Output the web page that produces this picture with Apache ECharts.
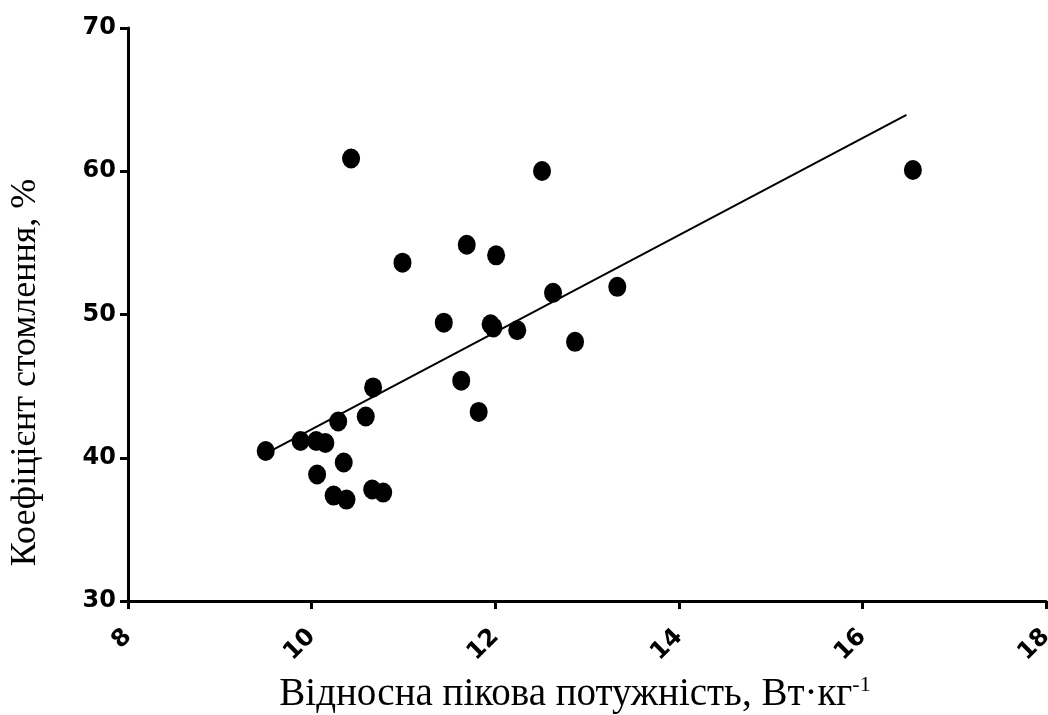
<!DOCTYPE html>
<html><head><meta charset="utf-8">
<script src="https://cdn.jsdelivr.net/npm/echarts@6/dist/echarts.min.js"></script>
<style>html,body{margin:0;padding:0;background:#fff}#c{width:1048px;height:715px}</style>
</head><body><div id="c"></div>
<script>
const xValues = [9.50, 9.88, 10.05, 10.15, 10.06, 10.24, 10.38, 10.35, 10.29, 10.59, 10.67, 10.66, 10.78, 10.43, 10.99, 11.44, 11.63, 11.69, 11.82, 11.95, 11.98, 12.01, 12.24, 12.51, 12.63, 12.87, 13.33, 16.55];
const yValues = [40.47, 41.17, 41.17, 41.03, 38.83, 37.36, 37.08, 39.67, 42.53, 42.88, 44.91, 37.78, 37.57, 60.89, 53.62, 49.43, 45.38, 54.87, 43.20, 49.32, 49.10, 54.13, 48.90, 60.02, 51.51, 48.09, 51.93, 60.09];
const fitX = [9.52, 16.48];
const fitY = [40.35, 63.93];
const xTicks = [8, 10, 12, 14, 16, 18];
const yTicks = [30, 40, 50, 60, 70];

const chart = echarts.init(document.getElementById('c'), null, {renderer: 'canvas'});
const axisLine = {show: true, lineStyle: {color: '#000', width: 3}};
const axisTick = {show: true, length: 8, lineStyle: {color: '#000', width: 3}};
chart.setOption({
  animation: false,
  backgroundColor: '#fff',
  grid: {left: 128, right: 2, top: 28, bottom: 114, containLabel: false, outerBoundsMode: 'none'},
  xAxis: {
    type: 'value', min: xTicks[0], max: xTicks[xTicks.length - 1], interval: 2,
    axisLine: axisLine, axisTick: axisTick, splitLine: {show: false},
    axisLabel: {
      rotate: 45, margin: 32,
      fontFamily: 'DejaVu Sans', fontWeight: 'bold', fontSize: 24, color: '#000',
      showMaxLabel: true, showMinLabel: true
    },
    name: '{t|Відносна пікова потужність, Вт·кг}{s|-1}',
    nameLocation: 'middle', nameGap: 73,
    nameTextStyle: {
      padding: [0, 24, 0, 0],
      rich: {
        t: {fontFamily: 'Liberation Serif', fontSize: 39, color: '#000', lineHeight: 40, verticalAlign: 'bottom'},
        s: {fontFamily: 'Liberation Serif', fontSize: 22, color: '#000', lineHeight: 40, verticalAlign: 'top', padding: [0, 0, 16, 0]}
      }
    }
  },
  yAxis: {
    type: 'value', min: yTicks[0], max: yTicks[yTicks.length - 1], interval: 10,
    axisLine: axisLine, axisTick: axisTick, splitLine: {show: false},
    axisLabel: {margin: 12, fontFamily: 'DejaVu Sans', fontWeight: 'bold', fontSize: 24, color: '#000'},
    name: 'Коефіцієнт стомлення, %',
    nameLocation: 'middle', nameGap: 84, nameRotate: 90,
    nameTextStyle: {fontFamily: 'Liberation Serif', fontSize: 36, color: '#000', padding: [0, 116, 0, 0]}
  },
  series: [
    {
      type: 'scatter', symbol: 'circle', symbolSize: [18, 20],
      itemStyle: {color: '#000', opacity: 1},
      data: xValues.map((x, i) => [x, yValues[i]]), z: 3
    },
    {
      type: 'line', symbol: 'none', showSymbol: false,
      lineStyle: {color: '#000', width: 2},
      data: fitX.map((x, i) => [x, fitY[i]]), z: 2
    }
  ]
});
</script></body></html>
